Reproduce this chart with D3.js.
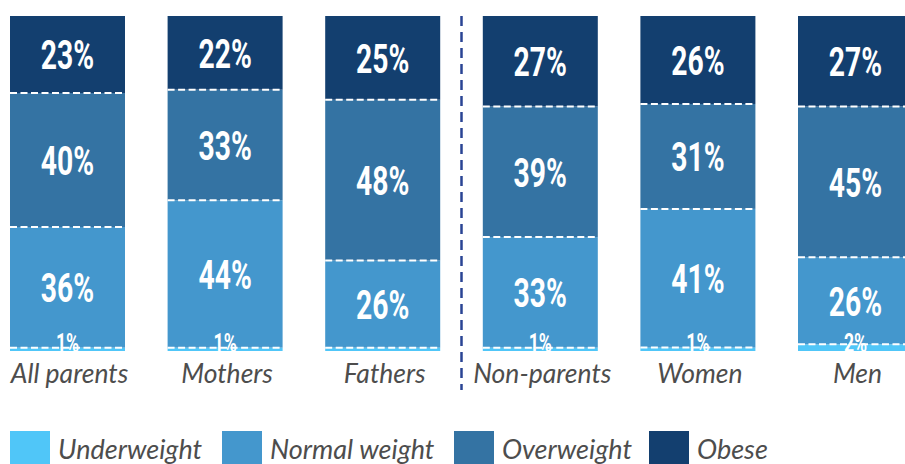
<!DOCTYPE html>
<html>
<head>
<meta charset="utf-8">
<script src="https://cdn.jsdelivr.net/npm/d3@7"></script>
<style>
  html, body { margin: 0; padding: 0; background: #fff; overflow: hidden; }
  svg { display: block; }
  .val { font-family: Roboto, "DejaVu Sans Condensed", sans-serif; font-weight: 700; fill: #fff; }
  .cat, .leg { font-family: Lato, "Open Sans", sans-serif; font-style: italic; fill: #4d4d4d; }
</style>
</head>
<body>
<svg id="chart" width="905" height="464"></svg>
<script>
// Weight status by group, in percent
const categories = ["All parents", "Mothers", "Fathers", "Non-parents", "Women", "Men"];
const seriesNames = ["Underweight", "Normal weight", "Overweight", "Obese"];
const underweight = [1, 1, 1, 1, 1, 2];
const normalWeight = [36, 44, 26, 33, 41, 26];
const overweight = [40, 33, 48, 39, 31, 45];
const obese = [23, 22, 25, 27, 26, 27];
// Underweight share is only printed where it was published
const underweightShown = [true, true, false, true, true, true];
const colors = ["#50c6f8", "#4497cd", "#3473a3", "#133f6f"];

const keys = ["u", "n", "o", "b"];
const rows = categories.map((c, i) => ({
  cat: c, u: underweight[i], n: normalWeight[i], o: overweight[i], b: obese[i]
}));

const svg = d3.select("#chart");
const x = d3.scaleBand().domain(categories).range([10, 913]).paddingInner(0.2703).paddingOuter(0);
const y = d3.scaleLinear().domain([0, 1]).range([351, 16]);
const color = d3.scaleOrdinal().domain(keys).range(colors);

const stacked = d3.stack().keys(keys).offset(d3.stackOffsetExpand)(rows);

const layers = svg.append("g").selectAll("g").data(stacked).join("g")
  .attr("fill", d => color(d.key));

layers.selectAll("rect").data(d => d.map(p => ({ p, key: d.key })))
  .join("rect")
  .attr("x", d => x(d.p.data.cat))
  .attr("width", x.bandwidth())
  .attr("y", d => y(d.p[1]))
  .attr("height", d => y(d.p[0]) - y(d.p[1]));

// Dashed white dividers between segments
const dividers = svg.append("g");
stacked.slice(0, -1).forEach(layer => {
  layer.forEach(p => {
    dividers.append("line")
      .attr("x1", x(p.data.cat)).attr("x2", x(p.data.cat) + x.bandwidth())
      .attr("y1", y(p[1])).attr("y2", y(p[1]))
      .attr("stroke", "#fff").attr("stroke-width", 2)
      .attr("stroke-dasharray", "7,3.5");
  });
});

// Value labels, narrowed horizontally for a condensed look
const labels = svg.append("g");
stacked.forEach((layer, li) => {
  layer.forEach((p, i) => {
    const v = rows[i][layer.key];
    const cx = x(p.data.cat) + x.bandwidth() / 2;
    if (layer.key === "u") {
      if (!underweightShown[i]) return;
      labels.append("text").attr("class", "val")
        .attr("transform", `translate(${cx},${y(0) + 1}) scale(0.68,1)`)
        .attr("text-anchor", "middle")
        .attr("font-size", 26)
        .attr("font-weight", 500)
        .text(v + "%");
    } else {
      labels.append("text").attr("class", "val")
        .attr("transform", `translate(${cx},${(y(p[0]) + y(p[1])) / 2}) scale(0.69,1)`)
        .attr("dy", "0.36em")
        .attr("text-anchor", "middle")
        .attr("font-size", 41)
        .text(v + "%");
    }
  });
});

// Group labels
svg.append("g").selectAll("text").data(categories).join("text")
  .attr("class", "cat")
  .attr("x", d => x(d) + x.bandwidth() / 2 + 2)
  .attr("y", 383)
  .attr("text-anchor", "middle")
  .attr("font-size", 26.5)
  .text(d => d);

// Separator between parents and non-parents
const sepX = (x("Fathers") + x.bandwidth() + x("Non-parents")) / 2;
svg.append("line")
  .attr("x1", sepX).attr("x2", sepX)
  .attr("y1", 16).attr("y2", 390)
  .attr("stroke", "#2a4494").attr("stroke-width", 2.5)
  .attr("stroke-dasharray", "10,6");

// Legend
const legendX = [10, 222, 454, 649];
const leg = svg.append("g").selectAll("g").data(seriesNames).join("g")
  .attr("transform", (d, i) => `translate(${legendX[i]},431)`);
leg.append("rect").attr("width", 40).attr("height", 33).attr("fill", (d, i) => colors[i]);
leg.append("text").attr("class", "leg")
  .attr("x", 48).attr("y", 28)
  .attr("font-size", 27)
  .text(d => d);
</script>
</body>
</html>
